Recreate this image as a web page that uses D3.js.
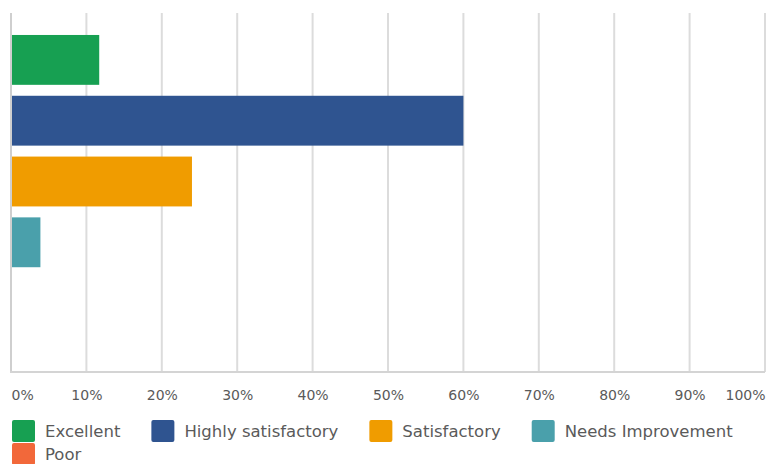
<!DOCTYPE html>
<html>
<head>
<meta charset="utf-8">
<script src="https://cdn.jsdelivr.net/npm/d3@7"></script>
<style>
  html, body { margin: 0; padding: 0; background: #fff; }
  svg { display: block; }
</style>
</head>
<body>
<svg id="chart" width="766" height="464"></svg>
<script>
const categories = ["Excellent", "Highly satisfactory", "Satisfactory", "Needs Improvement", "Poor"];
const values = [11.7, 60, 24, 3.9, 0];
const colors = ["#17a052", "#2f5490", "#f09c00", "#4aa0ab", "#f2683a"];
const tickValues = [0, 10, 20, 30, 40, 50, 60, 70, 80, 90, 100];
const tickLabels = ["0%", "10%", "20%", "30%", "40%", "50%", "60%", "70%", "80%", "90%", "100%"];

const svg = d3.select("#chart");
const font = "DejaVu Sans, sans-serif";

const x = d3.scaleLinear().domain([0, 100]).range([11, 765]);
const y = d3.scaleBand().domain(categories).range([29.5, 333.5]).paddingInner(0.18).paddingOuter(0.09);
const plotTop = 13, plotBottom = 372;

// gridlines
svg.append("g").selectAll("line").data(tickValues.slice(1)).join("line")
  .attr("x1", d => x(d)).attr("x2", d => x(d))
  .attr("y1", plotTop).attr("y2", plotBottom)
  .attr("stroke", "#dcdcdc").attr("stroke-width", 2);

// bars
svg.append("g").selectAll("rect").data(categories).join("rect")
  .attr("x", x(0))
  .attr("y", d => y(d))
  .attr("width", (d, i) => x(values[i]) - x(0))
  .attr("height", y.bandwidth())
  .attr("fill", (d, i) => colors[i]);

// left axis line
svg.append("line").attr("x1", x(0)).attr("x2", x(0)).attr("y1", plotTop).attr("y2", plotBottom)
  .attr("stroke", "#cfcfcf").attr("stroke-width", 2);
// bottom axis line
svg.append("line").attr("x1", x(0) - 1).attr("x2", x(100)).attr("y1", plotBottom).attr("y2", plotBottom)
  .attr("stroke", "#d4d4d4").attr("stroke-width", 2);

// x axis tick labels
const xAxis = d3.axisBottom(x).tickValues(tickValues).tickFormat((d, i) => tickLabels[i]).tickSize(0).tickPadding(0);
const gx = svg.append("g").attr("transform", `translate(0, ${plotBottom})`).call(xAxis);
gx.select(".domain").remove();
gx.selectAll("text")
  .attr("y", 28).attr("dy", 0)
  .attr("font-family", font).attr("font-size", 14).attr("fill", "#5a5a5a")
  .attr("text-anchor", (d, i) => i === 0 ? "start" : (i === tickValues.length - 1 ? "end" : "middle"));

// legend
const legend = svg.append("g");
const rows = [[0, 1, 2, 3], [4]];
const rowY = [420, 443];
rows.forEach((row, r) => {
  let cx = 12;
  row.forEach(i => {
    const g = legend.append("g");
    g.append("rect").attr("x", cx).attr("y", rowY[r]).attr("width", 23).attr("height", 22)
      .attr("rx", 2).attr("fill", colors[i]);
    const t = g.append("text").attr("x", cx + 33).attr("y", rowY[r] + 16.5)
      .attr("font-family", font).attr("font-size", 16.5).attr("fill", "#5a5a5a")
      .text(categories[i]);
    cx += 33 + t.node().getComputedTextLength() + 31;
  });
});
</script>
</body>
</html>
